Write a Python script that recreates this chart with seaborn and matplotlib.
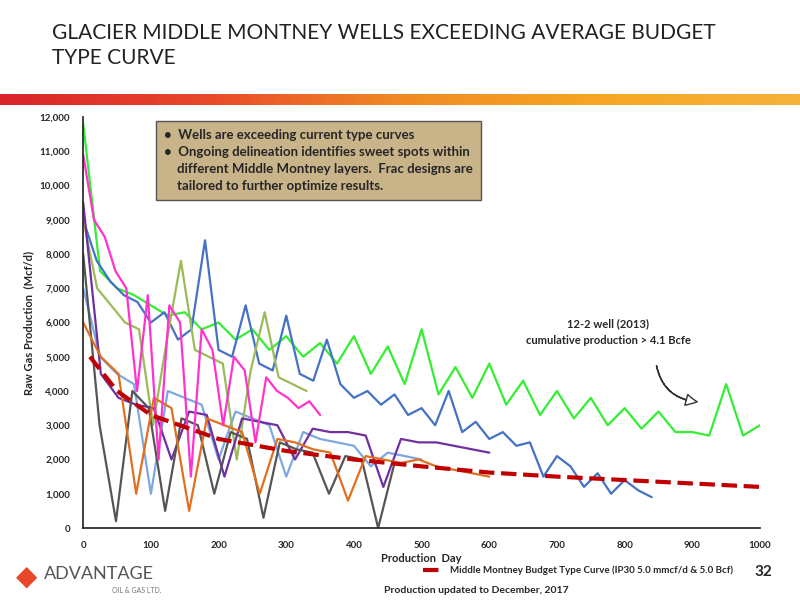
import numpy as np
import pandas as pd
import seaborn as sns
import matplotlib.pyplot as plt
from matplotlib.patches import FancyArrowPatch
from matplotlib.colors import LinearSegmentedColormap

sns.set_theme(style="white")
plt.rcParams['font.family'] = ['Lato', 'DejaVu Sans']

green_end = 1000
green = [11800, 7500, 7000, 6800, 6500, 6200, 6300, 5800, 6000, 5500, 5800, 5200, 5600, 5000, 5400, 4800,
         5600, 4500, 5300, 4200, 5800, 3900, 4700, 3800, 4800, 3600, 4300, 3300, 4000, 3200, 3800, 3000,
         3500, 2900, 3400, 2800, 2800, 2700, 4200, 2700, 3000]
blue_end = 840
blue = [9000, 7800, 7200, 6800, 6600, 6000, 6300, 5500, 5800, 8400, 5200, 5000, 6500, 4800, 4600, 6200,
        4500, 4300, 5500, 4200, 3800, 4000, 3600, 3900, 3300, 3500, 3000, 4000, 2800, 3100, 2600, 2800,
        2400, 2500, 1500, 2100, 1800, 1200, 1600, 1000, 1400, 1100, 900]
magenta_end = 350
magenta = [10900, 9000, 8500, 7500, 7000, 4000, 6800, 2000, 6500, 6000, 1500, 5800, 5200, 3000, 5000,
           4600, 2500, 4400, 4000, 3800, 3500, 3700, 3300]
purple_end = 600
purple = [9500, 4500, 3800, 3600, 3500, 2000, 3400, 3300, 1500, 3200, 3100, 3000, 2000, 2900, 2800,
          2800, 2700, 1200, 2600, 2500, 2500, 2400, 2300, 2200]
orange_end = 600
orange = [6000, 5000, 4500, 1000, 3800, 3500, 500, 3200, 3000, 2800, 1000, 2600, 2500, 2300, 2200,
          800, 2100, 2000, 1900, 2000, 1800, 1700, 1600, 1500]
gray_end = 460
gray = [8000, 3000, 200, 4000, 3500, 500, 3200, 3000, 1000, 2800, 2600, 300, 2500, 2300, 2200, 1000,
        2100, 2000, 0, 1900]
olive_end = 330
olive = [9000, 7000, 6500, 6000, 5800, 3000, 5500, 7800, 5200, 5000, 4800, 2000, 4600, 6300, 4400, 4200, 4000]
ltblue_end = 500
ltblue = [7000, 5000, 4500, 4200, 1000, 4000, 3800, 3600, 2000, 3400, 3200, 3000, 1500, 2800, 2600, 2500,
          2400, 1800, 2200, 2100, 2000]
tc_days = [10, 50, 100, 200, 300, 400, 500, 600, 700, 800, 900, 1000]
tc_vals = [5000, 4000, 3300, 2600, 2250, 2000, 1800, 1620, 1500, 1400, 1300, 1200]

fig = plt.figure(figsize=(8, 6), dpi=100)
fig.text(0.065, 0.962, "GLACIER MIDDLE MONTNEY WELLS EXCEEDING AVERAGE BUDGET\nTYPE CURVE",
         fontsize=15, color='#222222', va='top', linespacing=1.35)
gax = fig.add_axes([0, 0.825, 1, 0.018])
grad = np.linspace(0, 1, 256).reshape(1, -1)
cm = LinearSegmentedColormap.from_list('g', ['#d8242a', '#e8472a', '#f08a24', '#f6a623', '#f6b23a'])
gax.imshow(grad, aspect='auto', cmap=cm)
gax.axis('off')

ax = fig.add_axes([0.104, 0.12, 0.846, 0.685])
wells = [(green, green_end, '#33ee33'), (blue, blue_end, '#4472c4'), (ltblue, ltblue_end, '#7fa7e0'),
         (olive, olive_end, '#9bbb59'), (purple, purple_end, '#7030a0'), (gray, gray_end, '#555555'),
         (orange, orange_end, '#e07020'), (magenta, magenta_end, '#ff33cc')]
for vals, end, c in wells:
    df = pd.DataFrame({'day': np.linspace(0, end, len(vals)), 'rate': vals})
    sns.lineplot(data=df, x='day', y='rate', color=c, lw=1.6, ax=ax, legend=False)
tc = pd.DataFrame({'day': tc_days, 'rate': tc_vals})
sns.lineplot(data=tc, x='day', y='rate', color='#c00000', lw=3, ls='--', ax=ax,
             label='Middle Montney Budget Type Curve (IP30 5.0 mmcf/d & 5.0 Bcf)')
ax.set_xlim(0, 1000)
ax.set_ylim(0, 12000)
ax.set_xticks(range(0, 1001, 100))
ax.set_yticks(range(0, 12001, 1000))
ax.set_yticklabels([f"{v:,}" for v in range(0, 12001, 1000)])
ax.tick_params(labelsize=7)
for t in ax.get_xticklabels() + ax.get_yticklabels():
    t.set_fontweight('bold')
ax.set_xlabel('Production  Day', fontsize=8, fontweight='bold', labelpad=2)
ax.set_ylabel('Raw Gas Production  (Mcf/d)', fontsize=8, fontweight='bold')
for s in ['top', 'right']:
    ax.spines[s].set_visible(False)
ax.legend(loc='upper right', bbox_to_anchor=(0.97, -0.075), frameon=False,
          prop={'weight': 'bold', 'size': 7}, borderpad=0.2)

fig.text(0.205, 0.785, "•  Wells are exceeding current type curves\n"
         "•  Ongoing delineation identifies sweet spots within\n"
         "    different Middle Montney layers.  Frac designs are\n"
         "    tailored to further optimize results.", fontsize=9.5, fontweight='bold', va='top',
         linespacing=1.5, bbox=dict(boxstyle='square,pad=0.6', fc='#c9b48a', ec='#555555'))
fig.text(0.76, 0.47, "12-2 well (2013)\ncumulative production > 4.1 Bcfe", fontsize=8,
         fontweight='bold', ha='center', va='top', linespacing=1.7)
arr = FancyArrowPatch((0.82, 0.395), (0.875, 0.33), transform=fig.transFigure,
                      connectionstyle='arc3,rad=0.4', arrowstyle='simple,head_width=8,head_length=8',
                      fc='white', ec='#333333', lw=1)
fig.patches.append(arr)
fig.text(0.48, 0.012, "Production updated to December, 2017", fontsize=7.5, fontweight='bold')
fig.text(0.965, 0.04, "32", fontsize=11, fontweight='bold', ha='right')
fig.text(0.055, 0.035, "ADVANTAGE", fontsize=13, color='#555555')
fig.text(0.14, 0.012, "OIL & GAS LTD.", fontsize=5, color='#777777')
fig.text(0.02, 0.025, "◆", fontsize=20, color='#e8472a')
fig.savefig('out.png')
